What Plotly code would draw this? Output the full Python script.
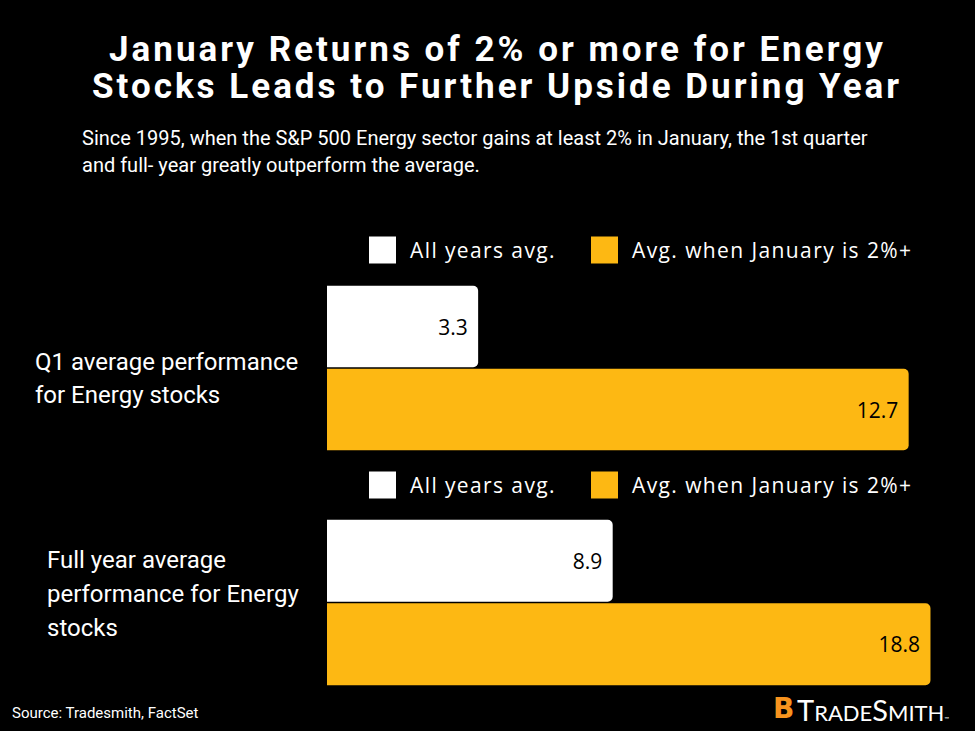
import plotly.graph_objects as go
from plotly.subplots import make_subplots

# chart data
series_names = ["All years avg.", "Avg. when January is 2%+"]
series_colors = ["#FFFFFF", "#FDB813"]
q1_values = [3.3, 12.7]
full_year_values = [8.9, 18.8]
panel_labels = [
    ["Q1 average performance", "for Energy stocks"],
    ["Full year average", "performance for Energy", "stocks"],
]
title_lines = [
    "January Returns of 2% or more for Energy",
    "Stocks Leads to Further Upside During Year",
]
subtitle_lines = [
    "Since 1995, when the S&P 500 Energy sector gains at least 2% in January, the 1st quarter",
    "and full- year greatly outperform the average.",
]
source_text = "Source: Tradesmith, FactSet"

W, H = 975, 731
LABEL_FONT = "Open Sans"
TEXT_FONT = "Roboto"


def px(x):
    return x / W


def py_(y):
    return 1 - y / H


fig = make_subplots(rows=2, cols=1, vertical_spacing=0.05)

panels = [q1_values, full_year_values]
for i, vals in enumerate(panels):
    # orange first so that it sits below the white bar
    for j in [1, 0]:
        fig.add_trace(go.Bar(
            y=["v"], x=[vals[j]], orientation="h",
            name=series_names[j],
            marker=dict(color=series_colors[j], line_width=0),
            text=[f"{vals[j]:.1f} "], textposition="inside",
            insidetextanchor="end",
            textfont=dict(color="black", size=21, family=LABEL_FONT),
            showlegend=False, hoverinfo="skip",
        ), row=i + 1, col=1)

# panel geometry (pixels)
panel_tops = [285, 519]
panel_bottoms = [451, 686]
panel_ranges = [648 / 45.8, 648 / 32.1]
legend_y = [250, 485]

fig.update_layout(
    width=W, height=H,
    paper_bgcolor="black", plot_bgcolor="black",
    margin=dict(l=0, r=0, t=0, b=0),
    barmode="group", bargap=0, bargroupgap=0.02,
    barcornerradius=5,
    uniformtext=dict(minsize=21, mode="show"),
    showlegend=False,
)

for i in range(2):
    xa = "xaxis" if i == 0 else "xaxis2"
    ya = "yaxis" if i == 0 else "yaxis2"
    fig.update_layout({
        xa: dict(domain=[px(327), 1], range=[0, panel_ranges[i]],
                 visible=False, fixedrange=True),
        ya: dict(domain=[py_(panel_bottoms[i]), py_(panel_tops[i])],
                 visible=False, fixedrange=True),
    })

annotations = []
shapes = []


def add_lines(lines, x, y0, step, size, family, anchor="left", bold=False, spacing=0):
    for k, line in enumerate(lines):
        txt = f"<b>{line}</b>" if bold else line
        if spacing:
            txt = f"<span style='letter-spacing:{spacing}px'>{txt}</span>"
        annotations.append(dict(
            text=txt, x=px(x), y=py_(y0 + k * step), xref="paper", yref="paper",
            xanchor=anchor, yanchor="middle", showarrow=False,
            font=dict(color="white", size=size, family=family),
        ))


add_lines(title_lines, W / 2 + 10, 49, 37, 35, TEXT_FONT, anchor="center", bold=True, spacing=3)
add_lines(subtitle_lines, 80, 138, 27, 20, TEXT_FONT)
add_lines(panel_labels[0], 33, 362, 33, 24, TEXT_FONT)
add_lines(panel_labels[1], 45, 560, 34, 24, TEXT_FONT)

# legends drawn as squares + text
legend_x = [369, 591]
for ly in legend_y:
    for j, name in enumerate(series_names):
        x0 = legend_x[j]
        shapes.append(dict(
            type="rect", xref="paper", yref="paper",
            x0=px(x0), x1=px(x0 + 27), y0=py_(ly + 13.5), y1=py_(ly - 13.5),
            fillcolor=series_colors[j], line_width=0,
        ))
        annotations.append(dict(
            text=f"<span style='letter-spacing:1.4px'>{name}</span>",
            x=px(x0 + 39), y=py_(ly), xref="paper", yref="paper",
            xanchor="left", yanchor="middle", showarrow=False,
            font=dict(color="white", size=21, family=LABEL_FONT),
        ))

annotations.append(dict(
    text=source_text, x=px(10), y=py_(713), xref="paper", yref="paper",
    xanchor="left", yanchor="middle", showarrow=False,
    font=dict(color="white", size=15, family=TEXT_FONT),
))

# logo
annotations.append(dict(
    text="<b>B</b>", x=px(783), y=py_(708), xref="paper", yref="paper",
    xanchor="center", yanchor="middle", showarrow=False,
    font=dict(color="#F7931E", size=28, family="DejaVu Sans"),
))
annotations.append(dict(
    text="<span style='font-size:29px'>T</span>RADE"
         "<span style='font-size:29px'>S</span>MITH"
         "<span style='font-size:6px'>™</span>",
    x=px(795), y=py_(709), xref="paper", yref="paper",
    xanchor="left", yanchor="middle", showarrow=False,
    font=dict(color="white", size=22, family="Lato"),
))

fig.update_layout(annotations=annotations, shapes=shapes)

fig.write_html(
    "out.html",
    config={"displayModeBar": False},
    post_script="document.body.style.margin='0';document.body.style.background='black';",
)
